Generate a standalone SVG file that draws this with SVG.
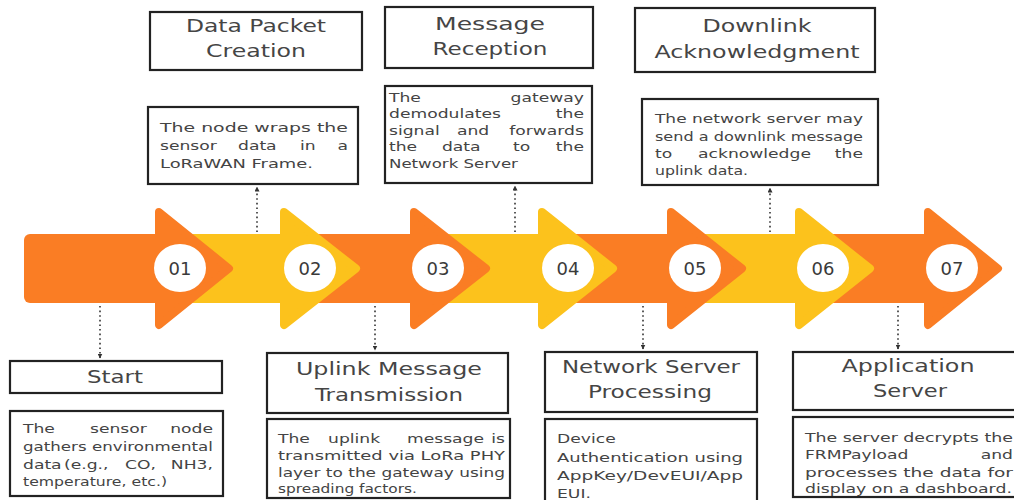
<svg xmlns="http://www.w3.org/2000/svg" width="1014" height="500" viewBox="0 0 1014 500">
<style>
.bg{fill:#ffffff}
.box{fill:#ffffff;stroke:#222222;stroke-width:2.2}
.or{fill:#FA7D24}
.ye{fill:#FCC21C}
.orh{fill:#FA7D24;stroke:#FA7D24;stroke-width:8;stroke-linejoin:round}
.yeh{fill:#FCC21C;stroke:#FCC21C;stroke-width:8;stroke-linejoin:round}
.num{fill:#ffffff}
.nt{font-family:"DejaVu Sans",sans-serif;font-size:18px;fill:#3a3a3a;text-anchor:middle}
.t{font-family:"DejaVu Sans",sans-serif;font-size:18px;fill:#454545;text-anchor:middle}
.d{font-family:"DejaVu Sans",sans-serif;font-size:13px;fill:#444444}
.r{text-anchor:end}
.con{fill:none;stroke:#333333;stroke-width:1.6;stroke-dasharray:1.6 3}
</style>
<defs>
<marker id="ah" viewBox="0 0 10 10" refX="9" refY="5" markerWidth="5" markerHeight="5" orient="auto" markerUnits="userSpaceOnUse">
<path d="M0,0 L10,5 L0,10 z" fill="#333333"/>
</marker>
</defs>
<rect class="bg" x="0" y="0" width="1014" height="500"/>

<g id="band">
<g id="seg7"><rect class="or" x="823" y="234" width="129" height="69"/><polygon class="orh" points="928,212 998,268.5 928,325"/><ellipse class="num" cx="952" cy="268" rx="26" ry="24"/><text class="nt" x="952" y="274.5">07</text></g>
<g id="seg6"><rect class="ye" x="695" y="234" width="128" height="69"/><polygon class="yeh" points="799,212 870,268.5 799,325"/><ellipse class="num" cx="823" cy="268" rx="26" ry="24"/><text class="nt" x="823" y="274.5">06</text></g>
<g id="seg5"><rect class="or" x="568" y="234" width="127" height="69"/><polygon class="orh" points="671,212 742,268.5 671,325"/><ellipse class="num" cx="695" cy="268" rx="26" ry="24"/><text class="nt" x="695" y="274.5">05</text></g>
<g id="seg4"><rect class="ye" x="438" y="234" width="130" height="69"/><polygon class="yeh" points="542,212 613,268.5 542,325"/><ellipse class="num" cx="568" cy="268" rx="26" ry="24"/><text class="nt" x="568" y="274.5">04</text></g>
<g id="seg3"><rect class="or" x="310" y="234" width="128" height="69"/><polygon class="orh" points="414,212 486,268.5 414,325"/><ellipse class="num" cx="438" cy="268" rx="26" ry="24"/><text class="nt" x="438" y="274.5">03</text></g>
<g id="seg2"><rect class="ye" x="180" y="234" width="130" height="69"/><polygon class="yeh" points="284,212 356,268.5 284,325"/><ellipse class="num" cx="310" cy="268" rx="26" ry="24"/><text class="nt" x="310" y="274.5">02</text></g>
<g id="seg1"><rect class="or" x="24" y="234" width="160" height="69" rx="6"/><polygon class="orh" points="159,212 229,268.5 159,325"/><ellipse class="num" cx="180" cy="268" rx="26" ry="24"/><text class="nt" x="180" y="274.5">01</text></g>
</g>

<g id="connectors">
<line class="con" x1="100" y1="306" x2="100" y2="358" marker-end="url(#ah)"/>
<line class="con" x1="257" y1="232" x2="257" y2="187" marker-end="url(#ah)"/>
<line class="con" x1="375" y1="306" x2="375" y2="350" marker-end="url(#ah)"/>
<line class="con" x1="515" y1="232" x2="515" y2="186" marker-end="url(#ah)"/>
<line class="con" x1="643" y1="306" x2="643" y2="349" marker-end="url(#ah)"/>
<line class="con" x1="770" y1="232" x2="770" y2="188" marker-end="url(#ah)"/>
<line class="con" x1="898" y1="306" x2="898" y2="349" marker-end="url(#ah)"/>
</g>

<g id="node-start">
<rect class="box" x="10" y="361" width="212" height="32"/>
<rect class="box" x="10" y="411" width="213" height="85"/>
<g transform="scale(1.28 1)"><text class="t" x="89.8" y="383" textLength="43.75" lengthAdjust="spacingAndGlyphs">Start</text></g>
<g class="d" transform="scale(1.32 1)">
<text x="17.42" y="433">The</text>
<text x="68.18" y="433">sensor</text>
<text class="r" x="161.36" y="433">node</text>
<text x="17.42" y="451" textLength="143.9" lengthAdjust="spacingAndGlyphs">gathers environmental</text>
<text x="17.42" y="469">data</text>
<text x="48.5" y="469">(e.g.,</text>
<text x="94.7" y="469">CO,</text>
<text class="r" x="161.36" y="469">NH3,</text>
<text x="17.42" y="486" textLength="109.1" lengthAdjust="spacingAndGlyphs">temperature, etc.)</text>
</g>
</g>

<g id="node-data-packet">
<rect class="box" x="150" y="12" width="212" height="58"/>
<rect class="box" x="148" y="107" width="210" height="77"/>
<g transform="scale(1.28 1)">
<text class="t" x="200" y="32" textLength="109.4" lengthAdjust="spacingAndGlyphs">Data Packet</text>
<text class="t" x="200" y="57" textLength="78.1" lengthAdjust="spacingAndGlyphs">Creation</text>
</g>
<g class="d" transform="scale(1.32 1)">
<text x="121.21" y="132" textLength="142.4" lengthAdjust="spacingAndGlyphs">The node wraps the</text>
<text x="121.21" y="150">sensor</text>
<text x="180.3" y="150">data</text>
<text x="227.27" y="150">in</text>
<text class="r" x="263.6" y="150">a</text>
<text x="121.21" y="168" textLength="115.9" lengthAdjust="spacingAndGlyphs">LoRaWAN Frame.</text>
</g>
</g>

<g id="node-uplink">
<rect class="box" x="267" y="353" width="241" height="60"/>
<rect class="box" x="267" y="419" width="243" height="79"/>
<g transform="scale(1.28 1)">
<text class="t" x="303.9" y="375" textLength="145.3" lengthAdjust="spacingAndGlyphs">Uplink Message</text>
<text class="t" x="303.9" y="401" textLength="115.6" lengthAdjust="spacingAndGlyphs">Transmission</text>
</g>
<g class="d" transform="scale(1.32 1)">
<text x="210.6" y="443">The</text>
<text x="248.5" y="443">uplink</text>
<text x="308.3" y="443">message</text>
<text class="r" x="382.6" y="443">is</text>
<text x="210.6" y="460" textLength="172" lengthAdjust="spacingAndGlyphs">transmitted via LoRa PHY</text>
<text x="210.6" y="477" textLength="172" lengthAdjust="spacingAndGlyphs">layer to the gateway using</text>
<text x="210.6" y="493" textLength="105.3" lengthAdjust="spacingAndGlyphs">spreading factors.</text>
</g>
</g>

<g id="node-reception">
<rect class="box" x="385" y="7" width="208" height="61"/>
<rect class="box" x="385" y="86" width="207" height="97"/>
<g transform="scale(1.28 1)">
<text class="t" x="382.8" y="30" textLength="85.9" lengthAdjust="spacingAndGlyphs">Message</text>
<text class="t" x="382.8" y="55" textLength="89.8" lengthAdjust="spacingAndGlyphs">Reception</text>
</g>
<g class="d" transform="scale(1.32 1)">
<text x="294.7" y="102">The</text>
<text class="r" x="442.4" y="102">gateway</text>
<text x="294.7" y="118">demodulates</text>
<text class="r" x="442.4" y="118">the</text>
<text x="294.7" y="135">signal</text>
<text x="346.2" y="135">and</text>
<text class="r" x="442.4" y="135">forwards</text>
<text x="294.7" y="151">the</text>
<text x="334.8" y="151">data</text>
<text x="388.6" y="151">to</text>
<text class="r" x="442.4" y="151">the</text>
<text x="294.7" y="168" textLength="97.7" lengthAdjust="spacingAndGlyphs">Network Server</text>
</g>
</g>

<g id="node-ns-processing">
<rect class="box" x="545" y="352" width="212" height="60"/>
<rect class="box" x="545" y="419" width="212" height="84"/>
<g transform="scale(1.28 1)">
<text class="t" x="508.6" y="373" textLength="139.1" lengthAdjust="spacingAndGlyphs">Network Server</text>
<text class="t" x="507.8" y="398" textLength="96.9" lengthAdjust="spacingAndGlyphs">Processing</text>
</g>
<g class="d" transform="scale(1.32 1)">
<text x="422" y="443">Device</text>
<text x="422" y="462" textLength="140.9" lengthAdjust="spacingAndGlyphs">Authentication using</text>
<text x="422" y="480" textLength="140.9" lengthAdjust="spacingAndGlyphs">AppKey/DevEUI/App</text>
<text x="422" y="498">EUI.</text>
</g>
</g>

<g id="node-downlink">
<rect class="box" x="635" y="8" width="240" height="64"/>
<rect class="box" x="642" y="99" width="236" height="86"/>
<g transform="scale(1.28 1)">
<text class="t" x="591.4" y="32" textLength="85.2" lengthAdjust="spacingAndGlyphs">Downlink</text>
<text class="t" x="591.4" y="58" textLength="160.2" lengthAdjust="spacingAndGlyphs">Acknowledgment</text>
</g>
<g class="d" transform="scale(1.32 1)">
<text x="496.2" y="123" textLength="157.6" lengthAdjust="spacingAndGlyphs">The network server may</text>
<text x="496.2" y="141" textLength="157.6" lengthAdjust="spacingAndGlyphs">send a downlink message</text>
<text x="496.2" y="158">to</text>
<text x="528.8" y="158">acknowledge</text>
<text class="r" x="653.8" y="158">the</text>
<text x="496.2" y="175" textLength="70.5" lengthAdjust="spacingAndGlyphs">uplink data.</text>
</g>
</g>

<g id="node-app-server">
<rect class="box" x="793" y="352" width="230" height="58"/>
<rect class="box" x="793" y="417" width="230" height="80"/>
<g transform="scale(1.28 1)">
<text class="t" x="709.4" y="372" textLength="103.9" lengthAdjust="spacingAndGlyphs">Application</text>
<text class="t" x="710.9" y="397" textLength="57.8" lengthAdjust="spacingAndGlyphs">Server</text>
</g>
<g class="d" transform="scale(1.32 1)">
<text x="609.8" y="442" textLength="157.6" lengthAdjust="spacingAndGlyphs">The server decrypts the</text>
<text x="609.8" y="459">FRMPayload</text>
<text class="r" x="767.4" y="459">and</text>
<text x="609.8" y="477" textLength="157.6" lengthAdjust="spacingAndGlyphs">processes the data for</text>
<text x="609.8" y="493" textLength="156.8" lengthAdjust="spacingAndGlyphs">display on a dashboard.</text>
</g>
</g>
</svg>
